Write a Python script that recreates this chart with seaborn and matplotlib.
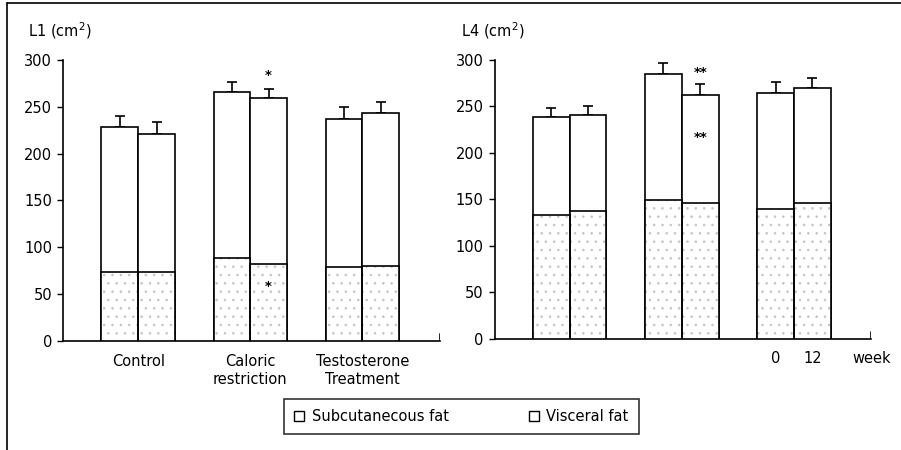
import numpy as np
import pandas as pd
import matplotlib
matplotlib.use("Agg")
import matplotlib.pyplot as plt
from matplotlib.lines import Line2D
from matplotlib.patches import Patch
import seaborn as sns

# données
groups = ["Control", "Caloric\nrestriction", "Testosterone\nTreatment"]
weeks = ["0", "12"]

# L1 : total (sous-cutané + viscéral), haut de la barre d'erreur, partie basse
l1_total = [228, 221, 266, 259, 237, 243]
l1_err_top = [240, 234, 276, 269, 250, 255]
l1_lower = [74, 74, 89, 82, 79, 80]

# L4
l4_total = [239, 241, 285, 262, 264, 270]
l4_err_top = [248, 250, 297, 274, 276, 280]
l4_lower = [133, 137, 149, 146, 140, 146]

# astérisques : (index de barre, valeur y, texte)
l1_stars = [(3, 283, "*"), (3, 58, "*")]
l4_stars = [(3, 286, "**"), (3, 216, "**")]

sns.set_style("white")
plt.rcParams["font.family"] = ["DejaVu Sans"]
plt.rcParams["hatch.linewidth"] = 0.6
for k in ["text.color", "axes.labelcolor", "xtick.color", "ytick.color"]:
    plt.rcParams[k] = "black"

fig = plt.figure(figsize=(9.01, 4.5), dpi=100)
ax1 = fig.add_axes([0.070, 0.242, 0.418, 0.625])
ax2 = fig.add_axes([0.549, 0.247, 0.418, 0.620])


def make_df(total, err_top, lower):
    return pd.DataFrame({
        "group": [g for g in groups for _ in weeks],
        "week": weeks * len(groups),
        "total": total,
        "err_top": err_top,
        "lower": lower,
    })


def draw_panel(ax, df, stars):
    kw = dict(x="group", y=None, hue="week", order=groups, hue_order=weeks,
              width=0.655, errorbar=None, legend=False, saturation=1, ax=ax)
    # barres totales (viscéral en haut)
    kw["y"] = "total"
    sns.barplot(data=df, palette=["white", "white"], edgecolor="black",
                linewidth=1.2, zorder=2, **kw)
    # partie basse pointillée (sous-cutané)
    kw["y"] = "lower"
    sns.barplot(data=df, palette=["white", "white"], edgecolor="#c4c4c4",
                linewidth=0, hatch="..", zorder=3, **kw)
    sns.barplot(data=df, palette=["white", "white"], fill=False,
                edgecolor="black", linewidth=1.2, zorder=4, **kw)

    # positions des barres (ordre groupe puis semaine)
    c0, c1 = ax.containers[0], ax.containers[1]
    xs = []
    for b0, b1 in zip(c0, c1):
        xs.append(b0.get_x() + b0.get_width() / 2)
        xs.append(b1.get_x() + b1.get_width() / 2)
    xs = np.array(xs)

    tot = df["total"].to_numpy()
    up = df["err_top"].to_numpy() - tot
    ax.errorbar(xs, tot, yerr=[np.zeros_like(up), up], fmt="none",
                ecolor="black", elinewidth=1.2, capsize=3.5, capthick=1.2,
                zorder=1)

    for i, yv, s in stars:
        ax.text(xs[i], yv, s, ha="center", va="center", fontsize=9.5,
                fontweight="bold", zorder=5)

    ax.set_ylim(0, 300)
    ax.set_xlim(-0.67, 2.69)
    ax.set_yticks(range(0, 301, 50))
    ax.set_xlabel("")
    ax.set_ylabel("")
    for sp in ["top", "right"]:
        ax.spines[sp].set_visible(False)
    ax.spines["left"].set_bounds(0, 300)
    for sp in ["left", "bottom"]:
        ax.spines[sp].set_linewidth(1.2)
        ax.spines[sp].set_color("black")
    ax.tick_params(axis="y", direction="out", length=4, width=1,
                   labelsize=10.5, pad=4, left=True)
    ax.tick_params(axis="x", length=0, labelsize=10.5, pad=9)
    ax.axvline(2.69, 0, 0.025, color="black", lw=1.2)
    ax.patch.set_alpha(0)
    return xs


xs1 = draw_panel(ax1, make_df(l1_total, l1_err_top, l1_lower), l1_stars)
xs2 = draw_panel(ax2, make_df(l4_total, l4_err_top, l4_lower), l4_stars)

ax1.set_xticks(range(len(groups)))
ax1.set_xticklabels(groups, linespacing=1.3)

ax2.set_xticks(xs2[4:6])
ax2.set_xticklabels(weeks)
ax2.text(1.0, -0.072, "week", transform=ax2.transAxes, ha="center",
         va="center", fontsize=10.5)

fig.text(0.031, 0.931, r"L1 (cm$^{2}$)", ha="left", va="center", fontsize=10.5)
fig.text(0.512, 0.931, r"L4 (cm$^{2}$)", ha="left", va="center", fontsize=10.5)

# légende
handles = [Patch(facecolor="white", edgecolor="black", lw=1),
           Patch(facecolor="white", edgecolor="black", lw=1)]
leg = fig.legend(handles, ["Subcutanecous fat", "Visceral fat"], loc="center",
                 bbox_to_anchor=(0.512, 0.0744), ncol=2, frameon=True,
                 fancybox=False, edgecolor="black", fontsize=10.5,
                 handlelength=0.7, handleheight=0.7, handletextpad=0.5,
                 columnspacing=5.5, borderpad=0.7, borderaxespad=0)
leg.get_frame().set_linewidth(1.2)

# cadre extérieur (haut et gauche)
fig.add_artist(Line2D([0.0078, 1.0], [0.993, 0.993], color="black", lw=1.2,
                      transform=fig.transFigure))
fig.add_artist(Line2D([0.0078, 0.0078], [0.0, 0.993], color="black", lw=1.2,
                      transform=fig.transFigure))

fig.savefig("out.png", dpi=100, facecolor="white")
